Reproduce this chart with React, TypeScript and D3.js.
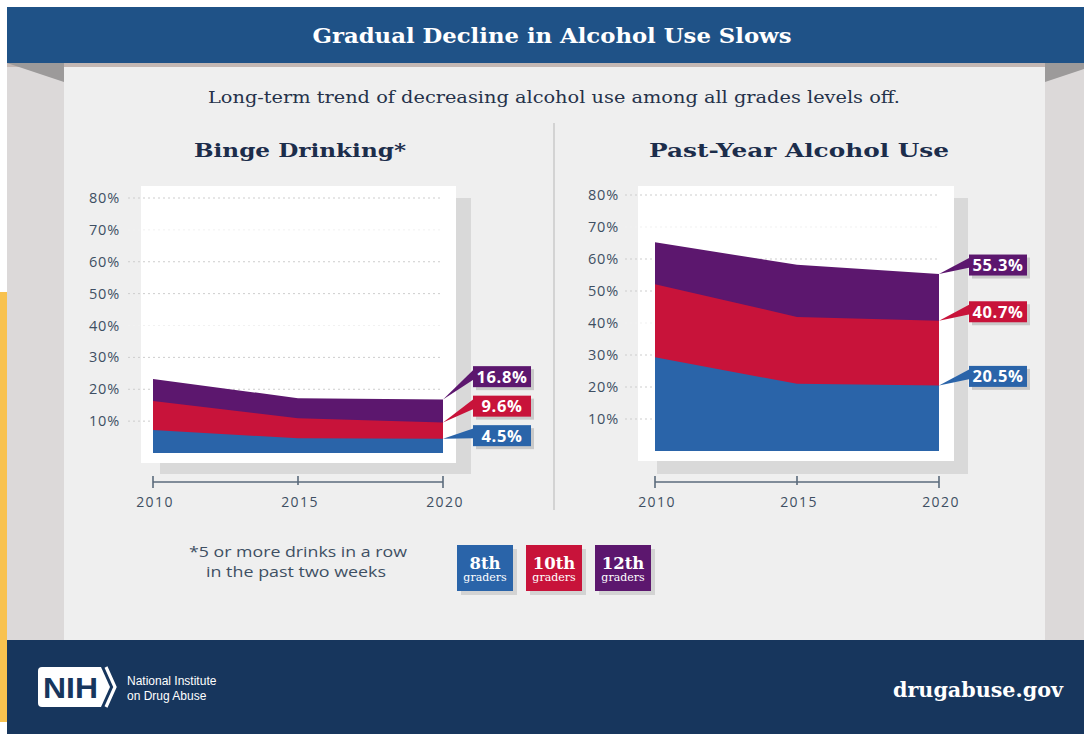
import React from "react";
import * as d3 from "d3";

// ---------- data ----------
const years = [2010, 2015, 2020];
const gradeNames = ["8th", "10th", "12th"];
const gradeColors = ["#2a64a9", "#c8133a", "#5c176e"];

const bingeGrade8 = [7.2, 4.6, 4.5];
const bingeGrade10 = [16.3, 10.9, 9.6];
const bingeGrade12 = [23.2, 17.2, 16.8];

const pastYearGrade8 = [29.3, 21.0, 20.5];
const pastYearGrade10 = [52.1, 41.9, 40.7];
const pastYearGrade12 = [65.2, 58.2, 55.3];

const yTicks = [10, 20, 30, 40, 50, 60, 70, 80];
const faintTicks = [40, 70];

const W = 1084;
const H = 734;

const serif = "'DejaVu Serif', serif";
const sans = "'Open Sans', 'DejaVu Sans', sans-serif";
const textNavy = "#1c2d4b";
const axisText = "#3e4f63";

type ChartProps = {
  title: string;
  titleWidth: number;
  series: number[][]; // 8th, 10th, 12th
  x0: number;
  x1: number;
  yTop: number;
  yBottom: number;
  box: [number, number, number, number];
  shadow: [number, number, number, number];
  gridX: [number, number];
  labelX: number;
  bottomLabelOffset: number;
};

function Chart(p: ChartProps) {
  const x = d3.scaleLinear().domain([2010, 2020]).range([p.x0, p.x1]);
  const y = d3.scaleLinear().domain([0, 80]).range([p.yBottom, p.yTop]);
  const area = d3
    .area<[number, number]>()
    .x((d) => x(d[0]))
    .y0(y(0))
    .y1((d) => y(d[1]));

  // callout layout: bottom-up collision avoidance
  const boxW = 58;
  const boxH = 21;
  const tipX = x(2020);
  const boxX = tipX + 30;
  const last = p.series.map((s) => s[s.length - 1]);
  const centers: number[] = [];
  let prev = Infinity;
  last.forEach((v, i) => {
    const tipY = y(v);
    const c = i === 0 ? tipY - p.bottomLabelOffset : Math.min(tipY - 9, prev - 29.5);
    centers.push(c);
    prev = c;
  });

  const axisY = 482;

  return (
    <g>
      <text
        x={(p.x0 + p.x1) / 2 + 2}
        y={157}
        textAnchor="middle"
        fontFamily={serif}
        fontWeight="bold"
        fontSize={19}
        fill={textNavy}
        textLength={p.titleWidth}
        lengthAdjust="spacingAndGlyphs"
      >
        {p.title}
      </text>
      {/* panel shadow and white box */}
      <rect x={p.shadow[0]} y={p.shadow[1]} width={p.shadow[2]} height={p.shadow[3]} fill="#d9d9d9" />
      <rect x={p.box[0]} y={p.box[1]} width={p.box[2]} height={p.box[3]} fill="#ffffff" />
      {/* grid */}
      {yTicks.map((t) => (
        <g key={t}>
          <line
            x1={p.gridX[0]}
            x2={p.gridX[1]}
            y1={y(t)}
            y2={y(t)}
            stroke={faintTicks.includes(t) ? "#f1f1f1" : "#cdcdcd"}
            strokeWidth={1}
            strokeDasharray="2,3"
          />
          <text
            x={p.labelX}
            y={y(t) + 5}
            textAnchor="end"
            fontFamily={sans}
            fontSize={14.5}
            letterSpacing={0.8}
            fill={axisText}
          >
            {t}%
          </text>
        </g>
      ))}
      {/* areas: 12th behind, 8th front */}
      {[2, 1, 0].map((i) => (
        <path
          key={i}
          d={area(years.map((yr, j) => [yr, p.series[i][j]]) as [number, number][]) || ""}
          fill={gradeColors[i]}
        />
      ))}
      {/* callouts */}
      {[2, 1, 0].map((i) => {
        const tipY = y(last[i]);
        const top = centers[i] - boxH / 2;
        return (
          <g key={"c" + i}>
            <rect x={boxX + 3} y={top + 3} width={boxW} height={boxH} fill="#c9c9c9" />
            <path
              d={`M${tipX},${tipY} L${boxX + 1},${top + 3} L${boxX + 1},${top + 13} Z`}
              fill={gradeColors[i]}
            />
            <rect x={boxX} y={top} width={boxW} height={boxH} fill={gradeColors[i]} />
            <text
              x={boxX + boxW / 2}
              y={top + 16.5}
              textAnchor="middle"
              fontFamily={sans}
              fontWeight="bold"
              fontSize={16.5}
              letterSpacing={0.6}
              fill="#ffffff"
            >
              {last[i].toFixed(1)}%
            </text>
          </g>
        );
      })}
      {/* x axis */}
      <line x1={x(2010)} x2={x(2020)} y1={axisY} y2={axisY} stroke="#5b6b7c" strokeWidth={1.6} />
      {years.map((yr, j) => (
        <g key={yr}>
          <line
            x1={x(yr)}
            x2={x(yr)}
            y1={axisY - 6}
            y2={j === 1 ? axisY + 3 : axisY + 6}
            stroke="#5b6b7c"
            strokeWidth={1.6}
          />
          <text
            x={x(yr) + 2}
            y={507}
            textAnchor="middle"
            fontFamily={sans}
            fontSize={14}
            letterSpacing={1.4}
            fill={axisText}
          >
            {yr}
          </text>
        </g>
      ))}
    </g>
  );
}

export default function App() {
  const legendX = [457, 526, 595];
  return (
    <svg
      width={W}
      height={H}
      viewBox={`0 0 ${W} ${H}`}
      style={{ position: "absolute", left: 0, top: 0, display: "block" }}
    >
      <rect x={0} y={0} width={W} height={H} fill="#ffffff" />
      {/* left yellow strip */}
      <rect x={0} y={292} width={7} height={430} fill="#f8c24f" />
      {/* side greys */}
      <rect x={7} y={63} width={W - 7} height={580} fill="#dcd9d9" />
      {/* main panel */}
      <rect x={64} y={63} width={981} height={580} fill="#efefef" />
      {/* banner shadow line */}
      <rect x={7} y={63} width={W - 7} height={4} fill="#c3b7b3" />
      {/* fold triangles */}
      <path d="M7,63 L64,63 L64,82 Z" fill="#9c9a9a" />
      <path d="M1045,63 L1084,63 L1084,69 L1045,82 Z" fill="#9c9a9a" />
      {/* banner */}
      <rect x={7} y={7} width={W - 7} height={56} fill="#1f5287" />
      <text
        x={552}
        y={43}
        textAnchor="middle"
        fontFamily={serif}
        fontWeight="bold"
        fontSize={21}
        fill="#ffffff"
        textLength={479}
        lengthAdjust="spacingAndGlyphs"
      >
        Gradual Decline in Alcohol Use Slows
      </text>
      {/* subtitle */}
      <text
        x={554}
        y={103}
        textAnchor="middle"
        fontFamily={serif}
        fontSize={16.5}
        fill="#25324a"
        textLength={692}
        lengthAdjust="spacingAndGlyphs"
      >
        Long-term trend of decreasing alcohol use among all grades levels off.
      </text>
      {/* divider */}
      <line x1={554} x2={554} y1={123} y2={510} stroke="#d3d3d3" strokeWidth={2} />

      <Chart
        title="Binge Drinking*"
        titleWidth={212}
        series={[bingeGrade8, bingeGrade10, bingeGrade12]}
        x0={153}
        x1={443}
        yTop={198}
        yBottom={453}
        box={[141, 186, 315, 277]}
        shadow={[160, 198, 311, 276]}
        gridX={[128, 440]}
        labelX={120}
        bottomLabelOffset={3}
      />
      <Chart
        title="Past-Year Alcohol Use"
        titleWidth={300}
        series={[pastYearGrade8, pastYearGrade10, pastYearGrade12]}
        x0={655}
        x1={939}
        yTop={195}
        yBottom={451}
        box={[638, 186, 316, 275]}
        shadow={[657, 198, 311, 276]}
        gridX={[625, 938]}
        labelX={619}
        bottomLabelOffset={9}
      />

      {/* footnote */}
      <text
        x={298}
        y={557}
        textAnchor="middle"
        fontFamily={sans}
        fontSize={14}
        fill={axisText}
        textLength={218}
        lengthAdjust="spacingAndGlyphs"
      >
        *5 or more drinks in a row
      </text>
      <text
        x={296}
        y={577}
        textAnchor="middle"
        fontFamily={sans}
        fontSize={14}
        fill={axisText}
        textLength={180}
        lengthAdjust="spacingAndGlyphs"
      >
        in the past two weeks
      </text>

      {/* legend */}
      {gradeNames.map((g, i) => (
        <g key={g}>
          <rect x={legendX[i] + 4} y={549} width={56} height={46} fill="#d3d3d3" />
          <rect x={legendX[i]} y={545} width={56} height={46} fill={gradeColors[i]} />
          <text
            x={legendX[i] + 28}
            y={569}
            textAnchor="middle"
            fontFamily={serif}
            fontWeight="bold"
            fontSize={16.5}
            fill="#ffffff"
          >
            {g}
          </text>
          <text
            x={legendX[i] + 28}
            y={581}
            textAnchor="middle"
            fontFamily={serif}
            fontSize={11}
            fill="#ffffff"
          >
            graders
          </text>
        </g>
      ))}

      {/* footer */}
      <rect x={7} y={640} width={W - 7} height={94} fill="#17365d" />
      <path d="M42,667 H101 L110,687 L101,707 H42 Q38,707 38,703 V671 Q38,667 42,667 Z" fill="#ffffff" />
      <path d="M106,667 L115,687 L106,707" fill="none" stroke="#ffffff" strokeWidth={3.2} />
      <text
        x={43}
        y={698}
        fontFamily="'Liberation Sans', Arial, sans-serif"
        fontWeight="bold"
        fontSize={29}
        fill="#17365d"
        textLength={55}
        lengthAdjust="spacingAndGlyphs"
      >
        NIH
      </text>
      <text x={127} y={685} fontFamily="'Liberation Sans', Arial, sans-serif" fontSize={12} fill="#ffffff">
        National Institute
      </text>
      <text x={127} y={700} fontFamily="'Liberation Sans', Arial, sans-serif" fontSize={12} fill="#ffffff">
        on Drug Abuse
      </text>
      <text
        x={1063}
        y={697}
        textAnchor="end"
        fontFamily={serif}
        fontWeight="bold"
        fontSize={21}
        fill="#ffffff"
        textLength={170}
        lengthAdjust="spacingAndGlyphs"
      >
        drugabuse.gov
      </text>
    </svg>
  );
}
